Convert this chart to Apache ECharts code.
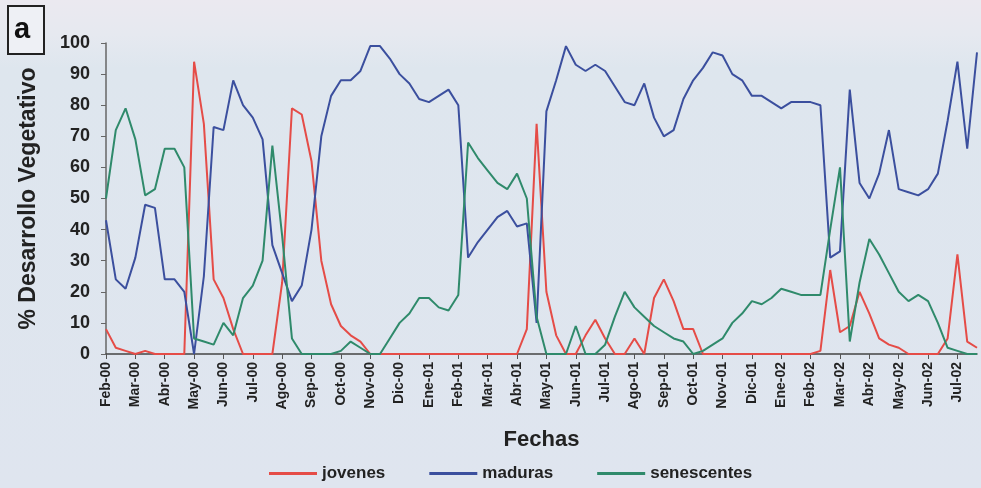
<!DOCTYPE html>
<html>
<head>
<meta charset="utf-8">
<script src="https://cdn.jsdelivr.net/npm/echarts@6/dist/echarts.min.js"></script>
<style>
  html, body { margin: 0; padding: 0; }
  #chart { width: 981px; height: 488px; }
</style>
</head>
<body>
<div id="chart"></div>
<script>
// meses (etiquetas del eje x), 3 decadas por mes
const months = [
  "Feb-00", "Mar-00", "Abr-00", "May-00", "Jun-00", "Jul-00", "Ago-00", "Sep-00",
  "Oct-00", "Nov-00", "Dic-00", "Ene-01", "Feb-01", "Mar-01", "Abr-01", "May-01",
  "Jun-01", "Jul-01", "Ago-01", "Sep-01", "Oct-01", "Nov-01", "Dic-01", "Ene-02",
  "Feb-02", "Mar-02", "Abr-02", "May-02", "Jun-02", "Jul-02"
];
const yTicks = [0, 10, 20, 30, 40, 50, 60, 70, 80, 90, 100];

const jovenes = [
  8, 2, 1, 0, 1, 0, 0, 0, 0, 94,
  74, 24, 18, 8, 0, 0, 0, 0, 23, 79,
  77, 62, 30, 16, 9, 6, 4, 0, 0, 0,
  0, 0, 0, 0, 0, 0, 0, 0, 0, 0,
  0, 0, 0, 8, 74, 20, 6, 0, 0, 6,
  11, 5, 0, 0, 5, 0, 18, 24, 17, 8,
  8, 0, 0, 0, 0, 0, 0, 0, 0, 0,
  0, 0, 0, 1, 27, 7, 9, 20, 13, 5,
  3, 2, 0, 0, 0, 0, 5, 32, 4, 2
];
const maduras = [
  43, 24, 21, 31, 48, 47, 24, 24, 20, 0,
  25, 73, 72, 88, 80, 76, 69, 35, 26, 17,
  22, 40, 70, 83, 88, 88, 91, 99, 99, 95,
  90, 87, 82, 81, 83, 85, 80, 31, 36, 40,
  44, 46, 41, 42, 10, 78, 88, 99, 93, 91,
  93, 91, 86, 81, 80, 87, 76, 70, 72, 82,
  88, 92, 97, 96, 90, 88, 83, 83, 81, 79,
  81, 81, 81, 80, 31, 33, 85, 55, 50, 58,
  72, 53, 52, 51, 53, 58, 75, 94, 66, 97
];
const senescentes = [
  50, 72, 79, 69, 51, 53, 66, 66, 60, 5,
  4, 3, 10, 6, 18, 22, 30, 67, 38, 5,
  0, 0, 0, 0, 1, 4, 2, 0, 0, 5,
  10, 13, 18, 18, 15, 14, 19, 68, 63, 59,
  55, 53, 58, 50, 12, 0, 0, 0, 9, 0,
  0, 3, 12, 20, 15, 12, 9, 7, 5, 4,
  0, 1, 3, 5, 10, 13, 17, 16, 18, 21,
  20, 19, 19, 19, 40, 60, 4, 23, 37, 32,
  26, 20, 17, 19, 17, 10, 2, 1, 0, 0
];

// una categoria por decada: "Feb-00|1", "Feb-00|2", ...
const categories = [];
months.forEach(m => {
  for (let d = 1; d <= 3; d++) categories.push(m + "|" + d);
});

const chart = echarts.init(document.getElementById("chart"), null, { renderer: "canvas" });

const labelFont = "'Liberation Sans', Arial, sans-serif";

const option = {
  animation: false,
  backgroundColor: {
    type: "linear", x: 0, y: 0, x2: 0, y2: 1,
    colorStops: [
      { offset: 0, color: "#ebe9f0" },
      { offset: 0.07, color: "#e6e9f0" },
      { offset: 0.14, color: "#dee6ee" },
      { offset: 1, color: "#dfe5ef" }
    ]
  },
  color: ["#e54c47", "#3b4f9e", "#2f8a6b"],
  grid: {
    left: 106,
    right: 4,
    top: 43,
    bottom: 134
  },
  legend: {
    left: 269,
    top: 465,
    padding: 0,
    itemWidth: 48,
    itemHeight: 3,
    itemGap: 44,
    icon: "rect",
    textStyle: {
      fontFamily: labelFont,
      fontWeight: "bold",
      fontSize: 17,
      color: "#222"
    },
    data: ["jovenes", "maduras", "senescentes"]
  },
  xAxis: {
    type: "category",
    boundaryGap: false,
    data: categories,
    name: "Fechas",
    nameLocation: "middle",
    nameGap: 75,
    nameTextStyle: {
      fontFamily: labelFont,
      fontWeight: "bold",
      fontSize: 22,
      color: "#222"
    },
    axisLine: { lineStyle: { color: "#444", width: 1.5 } },
    axisTick: {
      length: 5,
      interval: (i) => i % 3 === 0,
      lineStyle: { color: "#555" }
    },
    axisLabel: {
      interval: (i) => i % 3 === 0,
      rotate: 90,
      margin: 8,
      fontFamily: labelFont,
      fontWeight: "bold",
      fontSize: 14,
      color: "#222",
      formatter: (v) => v.split("|")[0]
    },
    splitLine: { show: false }
  },
  yAxis: {
    type: "value",
    min: yTicks[0],
    max: yTicks[yTicks.length - 1],
    interval: yTicks[1] - yTicks[0],
    name: "% Desarrollo Vegetativo",
    nameLocation: "middle",
    nameGap: 66,
    nameTextStyle: {
      fontFamily: labelFont,
      fontWeight: "bold",
      fontSize: 23,
      color: "#222"
    },
    axisLine: { show: true, lineStyle: { color: "#666", width: 1.5 } },
    axisTick: { show: true, length: 5, lineStyle: { color: "#666" } },
    axisLabel: {
      margin: 16,
      fontFamily: labelFont,
      fontWeight: "bold",
      fontSize: 18,
      color: "#222"
    },
    splitLine: { show: false }
  },
  graphic: [
    {
      type: "rect",
      left: 7,
      top: 5,
      shape: { width: 36, height: 48 },
      style: { fill: "#eef0f5", stroke: "#222", lineWidth: 2 }
    },
    {
      type: "text",
      left: 14,
      top: 15,
      style: {
        text: "a",
        fontFamily: labelFont,
        fontWeight: "bold",
        fontSize: 29,
        fill: "#111"
      }
    }
  ],
  series: [
    {
      name: "jovenes",
      type: "line",
      symbol: "none",
      smooth: false,
      lineStyle: { width: 2 },
      data: jovenes
    },
    {
      name: "maduras",
      type: "line",
      symbol: "none",
      smooth: false,
      lineStyle: { width: 2 },
      data: maduras
    },
    {
      name: "senescentes",
      type: "line",
      symbol: "none",
      smooth: false,
      lineStyle: { width: 2 },
      data: senescentes
    }
  ]
};

chart.setOption(option);
window.addEventListener("resize", () => chart.resize(), false);
</script>
</body>
</html>
